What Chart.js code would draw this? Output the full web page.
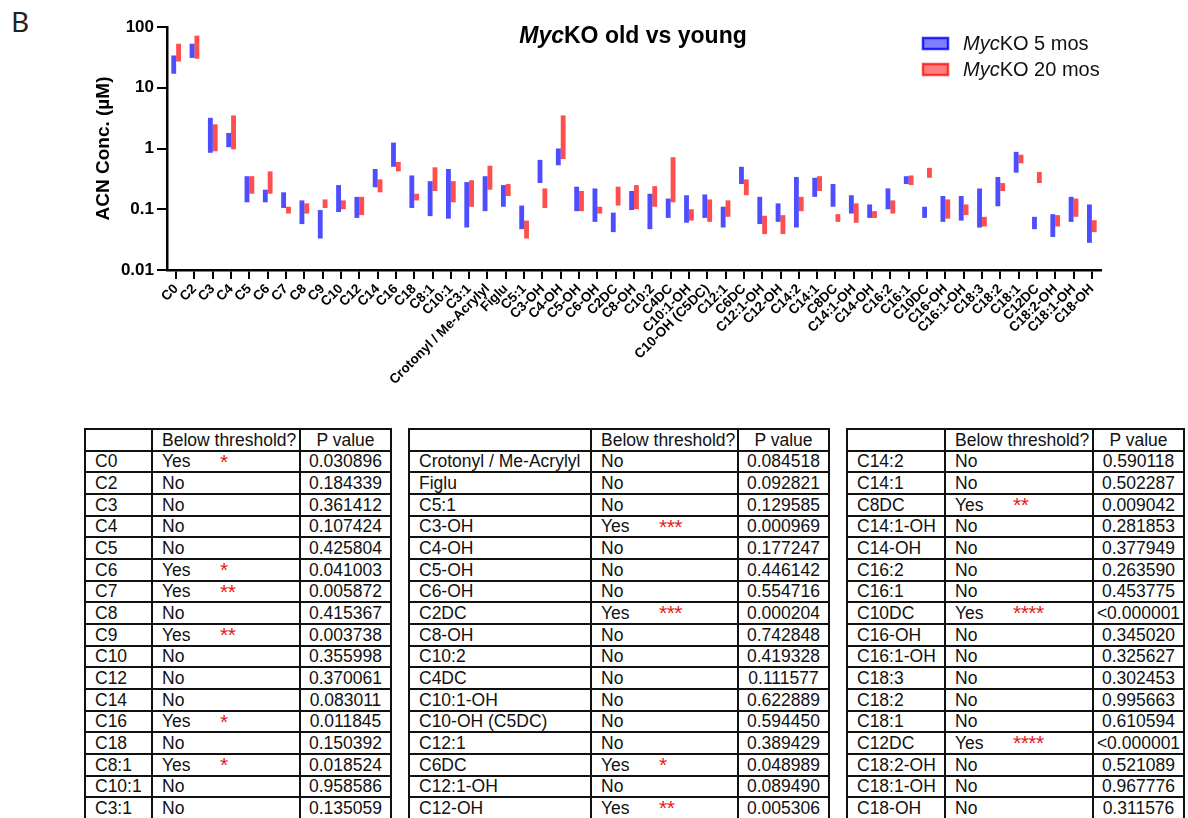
<!DOCTYPE html>
<html><head><meta charset="utf-8">
<script src="https://cdn.jsdelivr.net/npm/chart.js@4"></script>
<style>
html,body{margin:0;padding:0;background:#fff;}
#wrap{position:relative;width:1188px;height:818px;overflow:hidden;background:#fff;}
#chartBox{position:absolute;left:0;top:0;width:1188px;height:400px;}
#panel{position:absolute;left:11px;top:2px;font:28px 'Noto Sans',sans-serif;color:#222;}
table{position:absolute;top:428px;border-collapse:collapse;table-layout:fixed;font:17.5px 'Liberation Sans',Arial,sans-serif;color:#111;}
td{border:2px solid #111;height:21.67px;padding:0 0 0 9px;line-height:18px;white-space:nowrap;position:relative;overflow:visible;box-sizing:border-box;}
td.p{text-align:center;padding:0;}
.star{position:absolute;left:67px;top:-1px;color:#e41a1a;font-size:21px;line-height:1;letter-spacing:-0.5px;}
</style></head>
<body>
<div id="wrap">
<div id="panel">B</div>
<div id="chartBox"><canvas id="c" width="1188" height="400" style="width:1188px;height:400px"></canvas></div>
</div>
<script>
const categories = ['C0','C2','C3','C4','C5','C6','C7','C8','C9','C10','C12','C14','C16','C18','C8:1','C10:1','C3:1','Crotonyl / Me-Acrylyl','Figlu','C5:1','C3-OH','C4-OH','C5-OH','C6-OH','C2DC','C8-OH','C10:2','C4DC','C10:1-OH','C10-OH (C5DC)','C12:1','C6DC','C12:1-OH','C12-OH','C14:2','C14:1','C8DC','C14:1-OH','C14-OH','C16:2','C16:1','C10DC','C16-OH','C16:1-OH','C18:3','C18:2','C18:1','C12DC','C18:2-OH','C18:1-OH','C18-OH'];
const seriesNames = ['5 mos','20 mos'];
const blueMin = [17,31,0.85,1.05,0.13,0.13,0.105,0.057,0.033,0.09,0.072,0.23,0.5,0.105,0.077,0.07,0.05,0.093,0.11,0.047,0.27,0.53,0.093,0.062,0.042,0.097,0.047,0.072,0.06,0.072,0.05,0.26,0.057,0.062,0.05,0.16,0.11,0.085,0.072,0.1,0.26,0.072,0.062,0.065,0.05,0.112,0.4,0.047,0.035,0.062,0.028];
const blueMax = [34,53,3.2,1.8,0.35,0.21,0.19,0.14,0.097,0.25,0.16,0.46,1.25,0.36,0.29,0.46,0.28,0.35,0.25,0.115,0.65,1.0,0.235,0.22,0.088,0.2,0.18,0.15,0.17,0.175,0.11,0.5,0.16,0.125,0.34,0.33,0.26,0.17,0.12,0.22,0.35,0.11,0.165,0.165,0.22,0.34,0.88,0.075,0.083,0.16,0.12];
const redMin = [27,30,0.9,0.97,0.18,0.18,0.085,0.085,0.105,0.1,0.08,0.19,0.42,0.14,0.2,0.13,0.11,0.21,0.165,0.033,0.105,0.67,0.093,0.085,0.115,0.1,0.11,0.13,0.065,0.062,0.075,0.17,0.039,0.039,0.093,0.2,0.062,0.06,0.072,0.085,0.25,0.33,0.07,0.08,0.052,0.2,0.57,0.27,0.052,0.075,0.042];
const redMax = [53,72,2.5,3.5,0.35,0.42,0.11,0.125,0.145,0.14,0.16,0.31,0.6,0.18,0.49,0.29,0.3,0.52,0.26,0.065,0.22,3.5,0.2,0.11,0.235,0.25,0.24,0.72,0.1,0.145,0.14,0.31,0.078,0.08,0.16,0.35,0.083,0.125,0.093,0.14,0.36,0.48,0.145,0.12,0.075,0.27,0.79,0.41,0.08,0.15,0.066];
const yTickValues = [0.01,0.1,1,10,100];
const yTickLabels = ['0.01','0.1','1','10','100'];
const belowThreshold = ['Yes','No','No','No','No','Yes','Yes','No','Yes','No','No','No','Yes','No','Yes','No','No','No','No','No','Yes','No','No','No','Yes','No','No','No','No','No','No','Yes','No','Yes','No','No','Yes','No','No','No','No','Yes','No','No','No','No','No','Yes','No','No','No'];
const stars = ['*','','','','','*','**','','**','','','','*','','*','','','','','','***','','','','***','','','','','','','*','','**','','','**','','','','','****','','','','','','****','','',''];
const pValues = ['0.030896','0.184339','0.361412','0.107424','0.425804','0.041003','0.005872','0.415367','0.003738','0.355998','0.370061','0.083011','0.011845','0.150392','0.018524','0.958586','0.135059','0.084518','0.092821','0.129585','0.000969','0.177247','0.446142','0.554716','0.000204','0.742848','0.419328','0.111577','0.622889','0.594450','0.389429','0.048989','0.089490','0.005306','0.590118','0.502287','0.009042','0.281853','0.377949','0.263590','0.453775','<0.000001','0.345020','0.325627','0.302453','0.995663','0.610594','<0.000001','0.521089','0.967776','0.311576'];

const FONT = '"Liberation Sans", Arial, sans-serif';
Chart.defaults.font.family = FONT;

const annotPlugin = {
  id: 'annot',
  afterDraw(chart) {
    const ctx = chart.ctx;
    ctx.save();
    ctx.textAlign = 'left'; ctx.textBaseline = 'alphabetic';
    const f1 = 'italic bold 23px ' + FONT, f2 = 'bold 23px ' + FONT;
    ctx.font = f1; const w1 = ctx.measureText('Myc').width;
    ctx.font = f2; const w2 = ctx.measureText('KO old vs young').width;
    const x0 = 633 - (w1 + w2) / 2;
    ctx.fillStyle = '#000';
    ctx.font = f1; ctx.fillText('Myc', x0, 43);
    ctx.font = f2; ctx.fillText('KO old vs young', x0 + w1, 43);
    chart.data.datasets.forEach((ds, i) => {
      const by = 38 + i * 26;
      ctx.fillStyle = ds.legendFill; ctx.fillRect(923, by, 25, 11);
      ctx.strokeStyle = ds.legendStroke; ctx.lineWidth = 2.5; ctx.strokeRect(923, by, 25, 11);
      ctx.fillStyle = '#111';
      ctx.font = 'italic 20px ' + FONT; ctx.fillText('Myc', 963, by + 12);
      const w = ctx.measureText('Myc').width;
      ctx.font = '20px ' + FONT; ctx.fillText('KO ' + seriesNames[i], 963 + w, by + 12);
    });
    ctx.restore();
  }
};

new Chart(document.getElementById('c'), {
  type: 'bar',
  data: {
    labels: categories,
    datasets: [
      { label: 'MycKO ' + seriesNames[0], data: categories.map((c, i) => [blueMin[i], blueMax[i]]),
        backgroundColor: 'rgba(10,10,255,0.72)', borderWidth: 0, categoryPercentage: 0.53, barPercentage: 1,
        legendFill: 'rgba(0,0,255,0.5)', legendStroke: 'rgba(0,0,255,0.8)' },
      { label: 'MycKO ' + seriesNames[1], data: categories.map((c, i) => [redMin[i], redMax[i]]),
        backgroundColor: 'rgba(255,10,10,0.72)', borderWidth: 0, categoryPercentage: 0.53, barPercentage: 1,
        legendFill: 'rgba(255,0,0,0.5)', legendStroke: 'rgba(255,0,0,0.7)' }
    ]
  },
  options: {
    responsive: false, animation: false,
    layout: { padding: { left: 0, top: 27, right: 87, bottom: 0 } },
    plugins: { legend: { display: false }, title: { display: false }, tooltip: { enabled: false } },
    scales: {
      x: {
        type: 'category', offset: true,
        grid: { display: true, drawOnChartArea: false, drawTicks: true, tickLength: 9, tickWidth: 2, tickColor: '#000', offset: false, lineWidth: 2, color: '#000' },
        border: { display: true, color: '#000', width: 2.5 },
        ticks: { autoSkip: false, maxRotation: 45, minRotation: 45, color: '#000', padding: 2, font: { size: 13.5, weight: 'bold' } },
        afterFit(scale) { scale.height = 130; }
      },
      y: {
        type: 'logarithmic', min: 0.01, max: 100,
        afterBuildTicks(scale) { scale.ticks = yTickValues.map(v => ({ value: v })); },
        ticks: {
          color: '#000', padding: 3, font: { size: 17, weight: 'bold' },
          callback(v) { const k = yTickValues.findIndex(t => Math.abs(Math.log10(t) - Math.log10(v)) < 1e-6); return k >= 0 ? yTickLabels[k] : ''; }
        },
        grid: { display: true, drawOnChartArea: false, drawTicks: true, tickLength: 10, tickWidth: 2, tickColor: '#000', lineWidth: 2, color: '#000' },
        border: { display: true, color: '#000', width: 2.5 },
        title: { display: true, text: 'ACN Conc. (µM)', color: '#000', font: { size: 19, weight: 'bold' }, padding: { top: 92, bottom: 0 } },
        afterFit(scale) { scale.width = 167; }
      }
    }
  },
  plugins: [annotPlugin]
});

function buildTable(start, end, left, colW) {
  const t = document.createElement('table');
  t.style.left = left + 'px';
  t.style.width = colW.reduce((a, b) => a + b, 0) + 'px';
  const cg = document.createElement('colgroup');
  colW.forEach(w => { const c = document.createElement('col'); c.style.width = w + 'px'; cg.appendChild(c); });
  t.appendChild(cg);
  const addRow = (a, b, star, p) => {
    const tr = document.createElement('tr');
    const td1 = document.createElement('td'); td1.textContent = a;
    const td2 = document.createElement('td'); td2.textContent = b;
    if (star) { const s = document.createElement('span'); s.className = 'star'; s.textContent = star; td2.appendChild(s); }
    const td3 = document.createElement('td'); td3.className = 'p'; td3.textContent = p;
    tr.append(td1, td2, td3); t.appendChild(tr);
  };
  addRow('', 'Below threshold?', '', 'P value');
  for (let i = start; i <= end; i++) addRow(categories[i], belowThreshold[i], stars[i], pValues[i]);
  document.getElementById('wrap').appendChild(t);
}
buildTable(0, 16, 84, [67, 148, 91]);
buildTable(17, 33, 408, [182, 147, 91]);
buildTable(34, 50, 846, [98, 148, 91]);
</script>
</body></html>
